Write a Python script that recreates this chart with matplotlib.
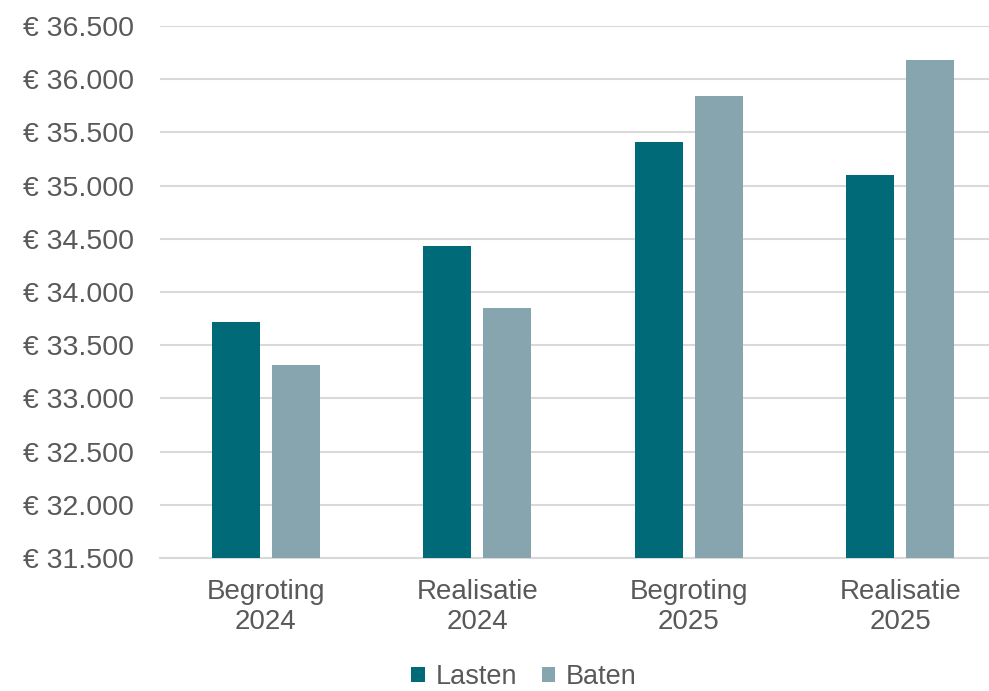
import numpy as np
import matplotlib.pyplot as plt
from matplotlib.ticker import FuncFormatter

categories = ["Begroting\n2024", "Realisatie\n2024", "Begroting\n2025", "Realisatie\n2025"]
lasten = [33720, 34430, 35410, 35100]
baten = [33310, 33850, 35840, 36180]

plt.rcParams["font.family"] = ["Liberation Sans", "DejaVu Sans"]
TEXT = "#595959"

fig = plt.figure(figsize=(9.89, 6.91), dpi=100)
ax = fig.add_axes([160 / 989, 1 - 558 / 691, 846 / 989, 532 / 691])

x = np.arange(len(categories))
w, off = 0.225, 0.142
ax.bar(x - off, lasten, w, color="#006A78", label="Lasten", zorder=3)
ax.bar(x + off, baten, w, color="#86A5AF", label="Baten", zorder=3)

ax.set_xlim(-0.5, 3.5)
ax.set_ylim(31500, 36500)
ax.set_yticks(np.arange(31500, 36501, 500))
ax.yaxis.set_major_formatter(FuncFormatter(lambda v, p: "€ " + f"{v:,.0f}".replace(",", ".")))
ax.set_xticks(x)
ax.set_xticklabels(categories, linespacing=1.2)
ax.grid(axis="y", color="#D9D9D9", linewidth=1.5, zorder=0)
for s in ["top", "right", "left"]:
    ax.spines[s].set_visible(False)
ax.spines["bottom"].set_color("#D9D9D9")
ax.spines["bottom"].set_linewidth(1.5)
ax.tick_params(axis="both", length=0, colors=TEXT)
ax.tick_params(axis="y", pad=19, labelsize=20.5)
ax.tick_params(axis="x", pad=15, labelsize=20)

fig.legend(loc="center", bbox_to_anchor=(524 / 989, 1 - 677 / 691), ncol=2, frameon=False,
           fontsize=19.5, labelcolor=TEXT, handlelength=0.5, handleheight=0.5,
           handletextpad=0.4, columnspacing=0.9, borderpad=0.1)

fig.savefig("out.png", dpi=100)
